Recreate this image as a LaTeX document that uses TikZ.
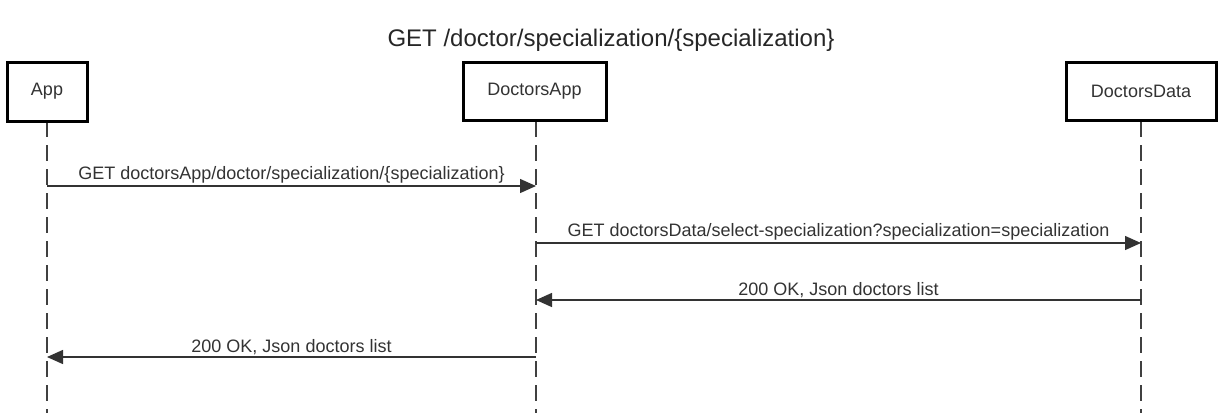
\documentclass[tikz,border=0pt]{standalone}
\usepackage{fontspec}
\setmainfont{Liberation Sans}
\usetikzlibrary{arrows.meta}
\begin{document}
\begin{tikzpicture}[x=1pt,y=-1pt,
  actor/.style={draw=black,line width=3pt,fill=white,inner sep=0pt,font=\fontsize{18}{20}\selectfont,text=black!80},
  lifeline/.style={draw=black!75,line width=1.3pt,dash pattern=on 16pt off 8pt},
  msg/.style={draw=black!80,line width=1.4pt,-{Triangle[length=16pt,width=14pt]}},
  msglabel/.style={font=\fontsize{18}{20}\selectfont,text=black!80,above,inner sep=2pt}]
\useasboundingbox (0,0) rectangle (1221,413);
\node[font=\fontsize{24}{28}\selectfont,text=black!85] (title) at (611,40) {GET /doctor/specialization/\{specialization\}};
% lifelines
\coordinate (a0) at (47,121); \coordinate (a1) at (47,413);
\coordinate (b0) at (536,121); \coordinate (b1) at (536,413);
\coordinate (c0) at (1141,121); \coordinate (c1) at (1141,413);
\draw[lifeline] (a0) -- (a1);
\draw[lifeline] (b0) -- (b1);
\draw[lifeline] (c0) -- (c1);
\node[actor,minimum width=80pt,minimum height=59pt] (app) at (47,91.5) {App};
\node[actor,minimum width=143pt,minimum height=58pt] (dapp) at (534.5,91) {DoctorsApp};
\node[actor,minimum width=150pt,minimum height=58pt] (ddata) at (1141,91) {DoctorsData};
% messages
\coordinate (m1s) at (47,186); \coordinate (m1e) at (536,186);
\coordinate (m2s) at (536,243); \coordinate (m2e) at (1141,243);
\coordinate (m3s) at (1141,300); \coordinate (m3e) at (536,300);
\coordinate (m4s) at (536,357); \coordinate (m4e) at (47,357);
\draw[msg] (m1s) -- node[msglabel] (l1) {GET doctorsApp/doctor/specialization/\{specialization\}} (m1e);
\draw[msg] (m2s) -- node[msglabel] (l2) {GET doctorsData/select-specialization?specialization=specialization} (m2e);
\draw[msg] (m3s) -- node[msglabel] (l3) {200 OK, Json doctors list} (m3e);
\draw[msg] (m4s) -- node[msglabel] (l4) {200 OK, Json doctors list} (m4e);
\end{tikzpicture}
\end{document}
